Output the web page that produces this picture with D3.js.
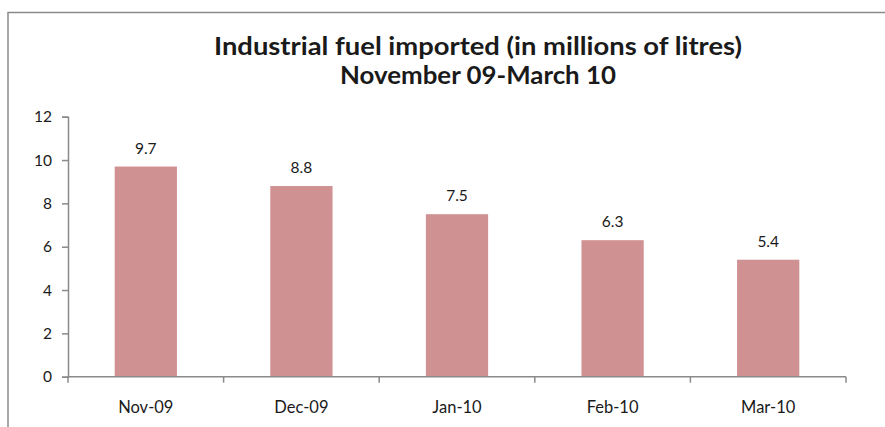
<!DOCTYPE html>
<html>
<head>
<meta charset="utf-8">
<script src="https://cdn.jsdelivr.net/npm/d3@7"></script>
<style>
  html, body { margin: 0; padding: 0; background: #fff; }
  svg { display: block; }
  text { font-family: Lato, "Open Sans", sans-serif; fill: #1a1a1a; }
</style>
</head>
<body>
<script>
const categories = ["Nov-09", "Dec-09", "Jan-10", "Feb-10", "Mar-10"];
const values = [9.7, 8.8, 7.5, 6.3, 5.4];
const valueLabels = ["9.7", "8.8", "7.5", "6.3", "5.4"];
const yTicks = [0, 2, 4, 6, 8, 10, 12];
const titleLines = ["Industrial fuel imported (in millions of litres)", "November 09-March 10"];

const W = 885, H = 427;
const svg = d3.select("body").append("svg").attr("width", W).attr("height", H);

// outer chart border
svg.append("rect")
  .attr("x", 8).attr("y", 12.5).attr("width", 1000).attr("height", 1000)
  .attr("fill", "none").attr("stroke", "#8a8a8a").attr("stroke-width", 1.5);

// title
const titleWidths = [528, 276];
const title = svg.append("text").attr("text-anchor", "middle")
  .style("font-weight", "bold").style("font-size", "25.5px");
titleLines.forEach((t, i) => {
  title.append("tspan").attr("x", 478).attr("y", 55 + i * 28.5)
    .attr("textLength", titleWidths[i]).attr("lengthAdjust", "spacingAndGlyphs").text(t);
});

const x = d3.scaleBand().domain(categories).range([68, 846])
  .paddingInner(0.6).paddingOuter(0.3);
const y = d3.scaleLinear().domain([0, 12]).range([376.7, 116.7]);

// bars
svg.append("g").selectAll("rect").data(values).join("rect")
  .attr("x", (d, i) => x(categories[i]))
  .attr("y", d => y(d))
  .attr("width", x.bandwidth())
  .attr("height", d => y(0) - y(d))
  .attr("fill", "#d09192");

// value labels
svg.append("g").selectAll("text").data(values).join("text")
  .attr("x", (d, i) => x(categories[i]) + x.bandwidth() / 2)
  .attr("y", d => y(d) - 13)
  .attr("text-anchor", "middle")
  .style("font-size", "15.5px")
  .text((d, i) => valueLabels[i]);

// y axis
const yAxis = svg.append("g").attr("transform", "translate(68,0)")
  .call(d3.axisLeft(y).tickValues(yTicks).tickSize(6).tickPadding(10).tickFormat(d3.format("d")));
yAxis.select(".domain").attr("stroke", "#8a8a8a").attr("stroke-width", 1.5);
yAxis.selectAll(".tick line").attr("stroke", "#8a8a8a").attr("stroke-width", 1.5);
yAxis.selectAll(".tick text").style("font-size", "15.5px").style("font-family", "Lato, sans-serif").attr("fill", "#1a1a1a");

// x axis line and boundary ticks
const x0 = x.range()[0], x1 = x.range()[1];
const step = x.step();
const bounds = d3.range(categories.length + 1).map(i => x0 + i * step);
const xg = svg.append("g");
xg.append("line").attr("x1", x0).attr("x2", x1).attr("y1", y(0)).attr("y2", y(0))
  .attr("stroke", "#8a8a8a").attr("stroke-width", 1.5);
xg.selectAll("line.tk").data(bounds).join("line").attr("class", "tk")
  .attr("x1", d => d).attr("x2", d => d).attr("y1", y(0)).attr("y2", y(0) + 6)
  .attr("stroke", "#8a8a8a").attr("stroke-width", 1.5);
xg.selectAll("text").data(categories).join("text")
  .attr("x", d => x(d) + x.bandwidth() / 2)
  .attr("y", 413)
  .attr("text-anchor", "middle")
  .style("font-size", "16.5px")
  .text(d => d);
</script>
</body>
</html>
